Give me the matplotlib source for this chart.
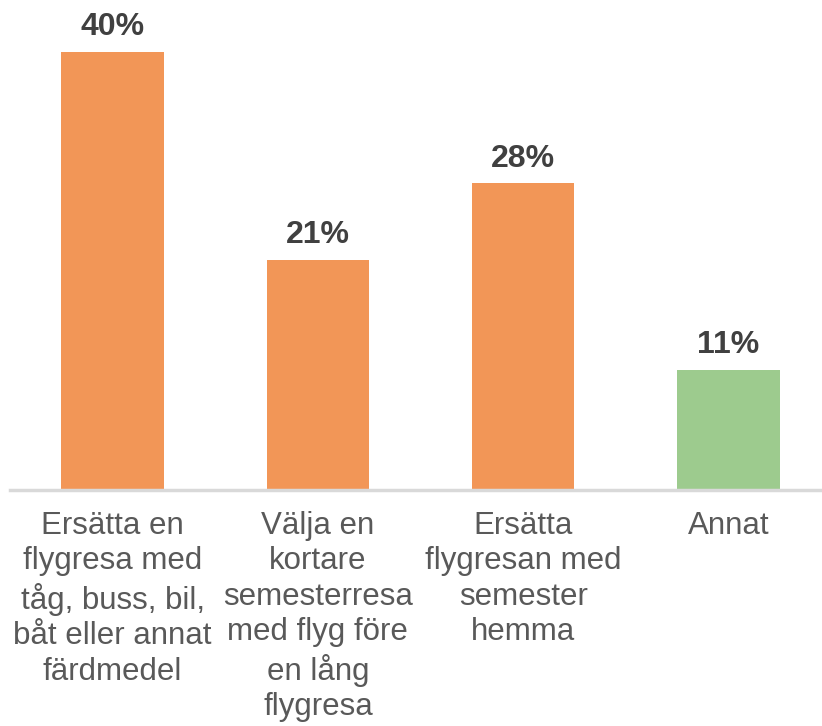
import matplotlib
matplotlib.use("Agg")
import matplotlib.pyplot as plt

categories = ["Ersätta en\nflygresa med\ntåg, buss, bil,\nbåt eller annat\nfärdmedel",
              "Välja en\nkortare\nsemesterresa\nmed flyg före\nen lång\nflygresa",
              "Ersätta\nflygresan med\nsemester\nhemma",
              "Annat"]
values = [40, 21, 28, 11]
colors = ["#F29657", "#F29657", "#F29657", "#9DCB8E"]

plt.rcParams['font.family'] = ['Liberation Sans', 'DejaVu Sans']
fig = plt.figure(figsize=(8.22, 7.26), dpi=100)
ax = fig.add_axes([10/822, (726-490)/726, 821/822, 490/726 - 0.0])
x = range(len(values))
ax.bar(x, values, width=0.5, color=colors, zorder=2)
ax.set_xlim(-0.5, 3.5)
ax.set_ylim(0, 40 * 490 / 438)
for i, v in enumerate(values):
    ax.text(i, v + 0.9, f"{v}%", ha="center", va="bottom", fontsize=23,
            fontweight="bold", color="#404040")
for s in ["top", "right", "left"]:
    ax.spines[s].set_visible(False)
ax.spines["bottom"].set_color("#D9D9D9")
ax.spines["bottom"].set_linewidth(2.5)
ax.set_yticks([])
ax.set_xticks(list(x))
ax.set_xticklabels(categories, fontsize=22.5, color="#595959", linespacing=1.24)
ax.tick_params(axis="x", length=0, pad=15)
fig.savefig("out.png", dpi=100)
